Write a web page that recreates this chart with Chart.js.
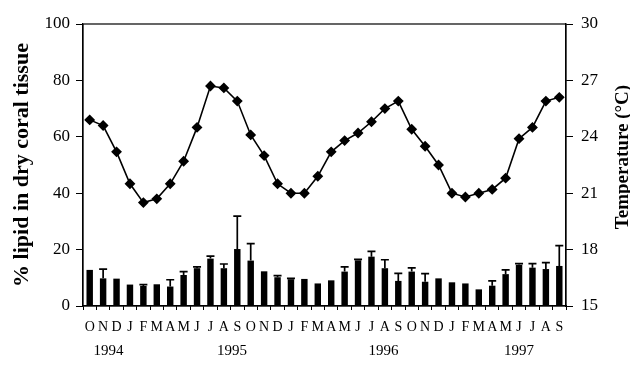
<!DOCTYPE html>
<html>
<head>
<meta charset="utf-8">
<script src="https://cdn.jsdelivr.net/npm/chart.js@4"></script>
<style>
  html, body { margin: 0; padding: 0; background: #fff; }
  #wrap { width: 630px; height: 365px; }
</style>
</head>
<body>
<div id="wrap"><canvas id="lipidChart" width="630" height="365"></canvas></div>
<script>
// months Oct 1994 - Sep 1997
const months = ['O','N','D','J','F','M','A','M','J','J','A','S',
                'O','N','D','J','F','M','A','M','J','J','A','S',
                'O','N','D','J','F','M','A','M','J','J','A','S'];

// % lipid in dry coral tissue (bars) and upper error
const lipid = [12.8, 9.8, 9.7, 7.6, 7.1, 7.7, 6.9, 11.0, 13.4, 16.8, 13.4, 20.2,
               16.1, 12.3, 10.2, 9.5, 9.6, 8.0, 9.1, 12.2, 16.2, 17.5, 13.4, 8.9,
               12.2, 8.6, 9.8, 8.4, 8.0, 5.9, 7.2, 11.3, 14.6, 13.6, 13.1, 14.2];
const lipidErr = [0, 3.3, 0, 0, 0.5, 0, 2.4, 1.2, 0.5, 0.9, 1.5, 11.7,
                  6.0, 0, 0.6, 0.3, 0, 0, 0, 1.7, 0.3, 1.9, 3.0, 2.7,
                  1.3, 2.9, 0, 0, 0, 0, 1.7, 1.5, 0.4, 1.4, 2.3, 7.2];

// temperature (°C), right axis
const temperature = [24.9, 24.6, 23.2, 21.5, 20.5, 20.7, 21.5, 22.7, 24.5, 26.7, 26.6, 25.9,
                     24.1, 23.0, 21.5, 21.0, 21.0, 21.9, 23.2, 23.8, 24.2, 24.8, 25.5, 25.9,
                     24.4, 23.5, 22.5, 21.0, 20.8, 21.0, 21.2, 21.8, 23.9, 24.5, 25.9, 26.1];

const lipidTicks = [0, 20, 40, 60, 80, 100];
const tempTicks = [15, 18, 21, 24, 27, 30];

// year captions under the month letters (category index where they sit)
const yearLabels = ['1994', '1995', '1996', '1997'];
const yearPos = [1.4, 10.6, 21.9, 32.0];

const serif = "'Liberation Serif', 'DejaVu Serif', serif";

// error bars (up only, with cap) on the bar dataset
const errorBars = {
    id: 'errorBars',
    afterDatasetsDraw(chart) {
        const meta = chart.getDatasetMeta(1);
        const y = chart.scales.y;
        const ctx = chart.ctx;
        ctx.save();
        ctx.strokeStyle = '#000';
        ctx.lineWidth = 1.7;
        meta.data.forEach((bar, i) => {
            if (!lipidErr[i]) return;
            const top = y.getPixelForValue(lipid[i] + lipidErr[i]);
            ctx.beginPath();
            ctx.moveTo(bar.x, bar.y);
            ctx.lineTo(bar.x, top);
            ctx.moveTo(bar.x - 4, top);
            ctx.lineTo(bar.x + 4, top);
            ctx.stroke();
        });
        ctx.restore();
    }
};

// box round the plot area, year captions, right title (reads upward)
const frameAndYears = {
    id: 'frameAndYears',
    afterDraw(chart) {
        const a = chart.chartArea;
        const ctx = chart.ctx;
        ctx.save();
        ctx.strokeStyle = '#000';
        ctx.lineWidth = 1.2;
        ctx.strokeRect(a.left, a.top, a.right - a.left, a.bottom - a.top);
        ctx.fillStyle = '#000';
        ctx.font = '15px ' + serif;
        ctx.textAlign = 'center';
        ctx.textBaseline = 'middle';
        const x = chart.scales.x;
        yearLabels.forEach((lbl, i) => {
            ctx.fillText(lbl, x.getPixelForValue(yearPos[i]), 351);
        });
        ctx.translate(623, 157);
        ctx.rotate(-Math.PI / 2);
        ctx.font = 'bold 19px ' + serif;
        ctx.fillText('Temperature (°C)', 0, 0);
        ctx.restore();
    }
};

const config = {
    data: {
        labels: months,
        datasets: [
            {
                type: 'line',
                data: temperature,
                yAxisID: 'y1',
                borderColor: '#000',
                backgroundColor: '#000',
                borderWidth: 1.6,
                pointStyle: 'rectRot',
                pointRadius: 4.3,
                pointHoverRadius: 4.3,
                tension: 0,
                order: 0
            },
            {
                type: 'bar',
                data: lipid,
                yAxisID: 'y',
                backgroundColor: '#000',
                borderWidth: 0,
                barPercentage: 0.48,
                categoryPercentage: 1.0,
                order: 1
            }
        ]
    },
    options: {
        responsive: false,
        animation: false,
        layout: { padding: { top: 24, right: 0, left: 0, bottom: 0 } },
        plugins: {
            legend: { display: false },
            tooltip: { enabled: false }
        },
        scales: {
            x: {
                offset: true,
                grid: {
                    offset: true,
                    drawOnChartArea: false,
                    drawTicks: true,
                    tickLength: 4,
                    color: '#000'
                },
                border: { display: true, color: '#000', width: 1.2 },
                ticks: {
                    color: '#000',
                    font: { family: serif, size: 14 },
                    padding: 9,
                    maxRotation: 0,
                    autoSkip: false
                },
                afterFit: s => { s.height = 59; }
            },
            y: {
                position: 'left',
                min: 0,
                max: 100,
                afterBuildTicks: s => { s.ticks = lipidTicks.map(v => ({ value: v })); },
                grid: { drawOnChartArea: false, tickLength: 7, color: '#000' },
                border: { color: '#000', width: 1.2 },
                ticks: {
                    color: '#000',
                    font: { family: serif, size: 17 },
                    padding: 6
                },
                title: {
                    display: true,
                    text: '% lipid in dry coral tissue',
                    color: '#000',
                    font: { family: serif, size: 22, weight: 'bold' },
                    padding: { top: 9, bottom: 0 }
                },
                afterFit: s => { s.width = 83; }
            },
            y1: {
                position: 'right',
                min: 15,
                max: 30,
                afterBuildTicks: s => { s.ticks = tempTicks.map(v => ({ value: v })); },
                grid: { drawOnChartArea: false, tickLength: 7, color: '#000' },
                border: { color: '#000', width: 1.2 },
                ticks: {
                    color: '#000',
                    font: { family: serif, size: 17 },
                    padding: 8
                },
                afterFit: s => { s.width = 64; }
            }
        }
    },
    plugins: [errorBars, frameAndYears]
};

new Chart(document.getElementById('lipidChart'), config);
</script>
</body>
</html>
